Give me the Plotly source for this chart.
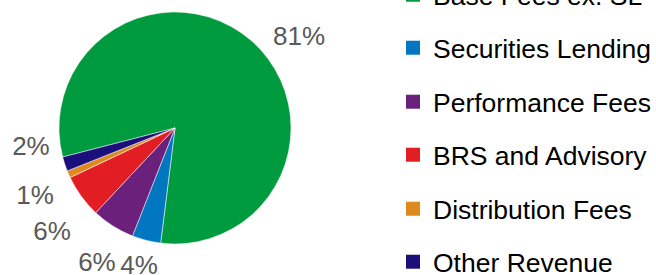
import plotly.graph_objects as go

categories = ["Base Fees ex. SL", "Securities Lending", "Performance Fees",
              "BRS and Advisory", "Distribution Fees", "Other Revenue"]
values = [81, 4, 6, 6, 1, 2]
colors = ["#009B3E", "#0077C0", "#6B207C", "#E31D24", "#DE8A1E", "#1B0F7B"]

W, H = 656, 275
ROT = 255.5
fig = go.Figure()


def dom(cx, cy, r):
    """pie domain (paper fractions) for a pie centred at pixel (cx, cy) with radius r"""
    return dict(x=[(cx - r) / W, (cx + r) / W],
                y=[max(0, (H - cy - r) / H), min(1, (H - cy + r) / H)])


# visible pie
fig.add_trace(go.Pie(
    labels=categories, values=values, sort=False, direction="clockwise",
    rotation=ROT,
    marker=dict(colors=colors, line=dict(color="white", width=0.5)),
    textinfo="none",
    domain=dom(175, 128, 116),
    showlegend=False, hoverinfo="label+percent",
))

# percentage labels ("outside end" placement, nudged like the original),
# each drawn by a transparent copy of the pie that shows one slice's label
label_font = dict(family="Liberation Sans", size=26, color="#595959")
label_geom = [(187, 134, 119), (194.7, 135.6, 119), (190, 145.7, 125),
              (174.4, 155.9, 119), (187, 138, 137), (157, 112, 105)]
for k, (cx, cy, r) in enumerate(label_geom):
    positions = ["outside" if j == k else "none" for j in range(len(values))]
    fig.add_trace(go.Pie(
        labels=categories, values=values, sort=False, direction="clockwise",
        rotation=ROT,
        marker=dict(colors=["rgba(0,0,0,0)"] * len(values), line=dict(width=0)),
        textinfo="percent", textposition=positions,
        texttemplate="%{percent:.0%}",
        textfont=label_font, outsidetextfont=label_font,
        domain=dom(cx, cy, r), showlegend=False, hoverinfo="skip",
    ))

# legend entries, one legend per entry so spacing matches the original
legend_y = [-5, 48, 102, 155, 209, 262]
for i, (cat, col) in enumerate(zip(categories, colors)):
    name = "legend" if i == 0 else f"legend{i + 1}"
    fig.add_trace(go.Scatter(
        x=[None], y=[None], mode="markers", name=cat,
        marker=dict(symbol="square", size=14, color=col),
        legend=name, showlegend=True, hoverinfo="skip",
    ))
    fig.layout[name] = dict(
        x=393 / W, y=1 - legend_y[i] / H, xanchor="left", yanchor="middle",
        bgcolor="rgba(0,0,0,0)", borderwidth=0, itemwidth=30,
        font=dict(family="Liberation Sans", size=26.5, color="#000000"),
    )

fig.update_layout(
    width=W, height=H,
    margin=dict(l=0, r=0, t=0, b=0, autoexpand=False),
    paper_bgcolor="white", plot_bgcolor="white",
    xaxis=dict(visible=False), yaxis=dict(visible=False),
)

fig.write_html("out.html", config={"displayModeBar": False},
               post_script="document.body.style.margin='0px';")
